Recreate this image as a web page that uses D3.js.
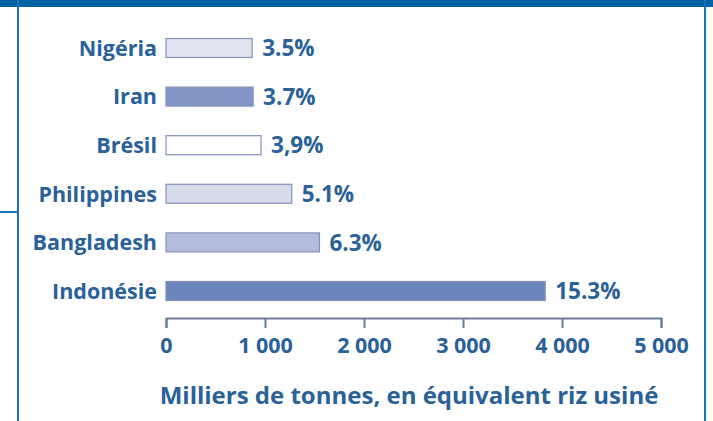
<!DOCTYPE html>
<html lang="fr">
<head>
  <meta charset="UTF-8">
  <title>Riz</title>
  <script src="https://d3js.org/d3.v7.min.js"></script>
  <style>
    body { margin: 0; background: #fff; }
    text { font-family: "Open Sans", sans-serif; }
  </style>
</head>
<body>
  <svg width="713" height="421"></svg>
  <script>
    // values in thousand tonnes (milled rice equivalent)
    const countries = ["Nigéria", "Iran", "Brésil", "Philippines", "Bangladesh", "Indonésie"];
    const values = [870, 880, 960, 1270, 1550, 3830];
    const shares = ["3.5%", "3.7%", "3,9%", "5.1%", "6.3%", "15.3%"];
    const fills = ["#dfe4f0", "#8495c8", "#ffffff", "#d7dcea", "#b3bddb", "#6d85bd"];
    const ticks = [0, 1000, 2000, 3000, 4000, 5000];
    const axisTitle = "Milliers de tonnes, en équivalent riz usiné";

    const svg = d3.select("svg");
    const width = +svg.attr("width");
    const height = +svg.attr("height");
    const textColor = "#2a6198";

    // frame
    svg.append("rect").attr("x", 0).attr("y", 0).attr("width", width).attr("height", 7).attr("fill", "#0063a6");
    svg.append("line").attr("x1", 18).attr("x2", 18).attr("y1", 0).attr("y2", height)
      .attr("stroke", "#1a72bd").attr("stroke-width", 2);
    svg.append("line").attr("x1", 705).attr("x2", 705).attr("y1", 0).attr("y2", height)
      .attr("stroke", "#1a72bd").attr("stroke-width", 2);
    svg.append("line").attr("x1", 0).attr("x2", 18).attr("y1", 212).attr("y2", 212)
      .attr("stroke", "#1a72bd").attr("stroke-width", 2);

    const x = d3.scaleLinear().domain([0, 5000]).range([166, 661]);
    const y = d3.scalePoint().domain(countries).range([48, 291]);
    const barH = 19;

    const rows = countries.map((c, i) => ({c, v: values[i], s: shares[i], f: fills[i]}));

    const g = svg.append("g");
    g.selectAll("rect.bar").data(rows).join("rect")
      .attr("class", "bar")
      .attr("x", x(0))
      .attr("y", d => y(d.c) - barH / 2)
      .attr("width", d => x(d.v) - x(0))
      .attr("height", barH)
      .attr("fill", d => d.f)
      .attr("stroke", "#8292b8")
      .attr("stroke-width", 1.2);

    g.selectAll("text.cat").data(rows).join("text")
      .attr("class", "cat")
      .attr("x", 157)
      .attr("y", d => y(d.c))
      .attr("dy", "0.36em")
      .attr("text-anchor", "end")
      .attr("font-size", 21.5)
      .attr("font-weight", 700)
      .attr("fill", textColor)
      .text(d => d.c);

    g.selectAll("text.val").data(rows).join("text")
      .attr("class", "val")
      .attr("x", d => x(d.v) + 10)
      .attr("y", d => y(d.c))
      .attr("dy", "0.36em")
      .attr("font-size", 22.5)
      .attr("font-weight", 700)
      .attr("fill", textColor)
      .text(d => d.s);

    // axis
    const fmt = d => d3.format(",")(d).replace(",", " ");
    const ax = svg.append("g")
      .attr("transform", "translate(0,318)")
      .call(d3.axisBottom(x).tickValues(ticks).tickFormat(fmt).tickSize(10).tickSizeOuter(10).tickPadding(10));
    ax.select(".domain").attr("stroke", "#6b7f96").attr("stroke-width", 2);
    ax.selectAll(".tick line").attr("stroke", "#6b7f96").attr("stroke-width", 2);
    ax.selectAll(".tick text")
      .attr("font-size", 21.5)
      .attr("font-weight", 700)
      .attr("fill", textColor)
      .style("font-family", "'Open Sans', sans-serif");

    svg.append("text")
      .attr("x", 409)
      .attr("y", 395)
      .attr("dy", "0.36em")
      .attr("text-anchor", "middle")
      .attr("font-size", 24)
      .attr("font-weight", 700)
      .attr("fill", textColor)
      .text(axisTitle);
  </script>
</body>
</html>
